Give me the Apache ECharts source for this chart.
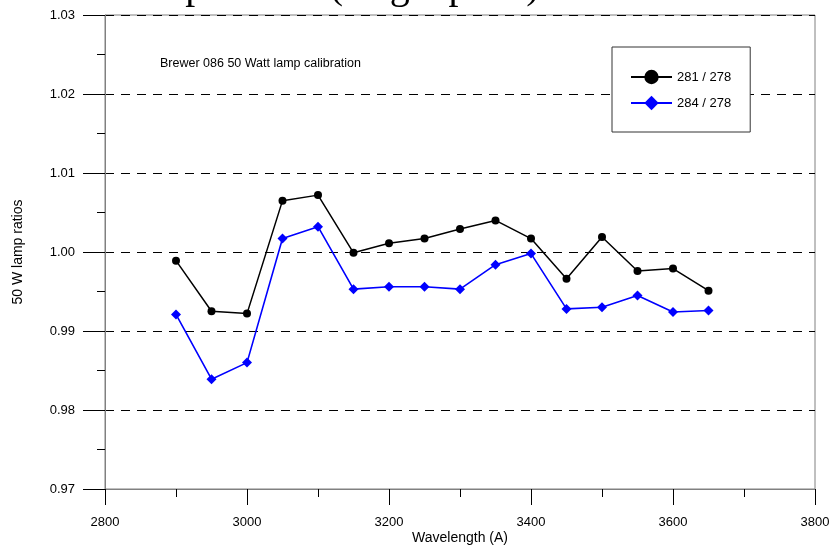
<!DOCTYPE html>
<html>
<head>
<meta charset="utf-8">
<script src="https://cdn.jsdelivr.net/npm/echarts@6/dist/echarts.min.js"></script>
<style>
  html, body { margin: 0; padding: 0; background: #fff; }
  #chart { width: 834px; height: 550px; }
</style>
</head>
<body>
<div id="chart"></div>
<script>
// Wavelengths (Angstrom) of the lamp scan
var wavelengths = [2900, 2950, 3000, 3050, 3100, 3150, 3200, 3250, 3300, 3350, 3400, 3450, 3500, 3550, 3600, 3650];
// Ratio 281 / 278
var ratio281 = [0.9989, 0.9925, 0.9922, 1.0065, 1.0072, 0.9999, 1.0011, 1.0017, 1.0029, 1.0040, 1.0017, 0.9966, 1.0019, 0.9976, 0.9979, 0.9951];
// Ratio 284 / 278
var ratio284 = [0.9921, 0.9839, 0.9860, 1.0017, 1.0032, 0.9953, 0.9956, 0.9956, 0.9953, 0.9984, 0.9998, 0.9928, 0.9930, 0.9945, 0.9924, 0.9926];
var seriesNames = ['281 / 278', '284 / 278'];

function pairs(xs, ys) {
  return xs.map(function (x, i) { return [x, ys[i]]; });
}

var chart = echarts.init(document.getElementById('chart'), null, { renderer: 'canvas' });

var font = '"Liberation Sans", Arial, sans-serif';
var dashed = { color: '#000', type: [9, 7], width: 1 };

chart.setOption({
  animation: false,
  backgroundColor: '#fff',
  textStyle: { fontFamily: font },
  grid: {
    left: 105, right: 19, top: 15, bottom: 61,
    outerBoundsMode: 'none', containLabel: false,
    show: true, borderColor: '#808080', borderWidth: 1, backgroundColor: 'transparent'
  },
  graphic: [
    {
      type: 'text', left: 112, top: -33, silent: true,
      style: { text: 'Lamp results (single plate)', font: '40px "Liberation Serif", "Times New Roman", serif', fill: '#000' }
    },
    {
      type: 'text', left: 160, top: 57, silent: true,
      style: { text: 'Brewer 086 50 Watt lamp calibration', font: '12.5px ' + font, fill: '#000' }
    }
  ],
  legend: {
    orient: 'vertical',
    left: 612, top: 47,
    padding: [20, 19, 19, 18],
    itemWidth: 41, itemHeight: 18, itemGap: 6, itemTextGap: 14,
    borderColor: '#333', borderWidth: 1, backgroundColor: '#fff',
    textStyle: { fontSize: 13, color: '#000', fontFamily: font, lineHeight: 20 },
    data: seriesNames
  },
  xAxis: {
    type: 'value', min: 2800, max: 3800, interval: 200,
    name: 'Wavelength (A)', nameLocation: 'middle', nameGap: 42, nameMoveOverlap: false,
    nameTextStyle: { fontSize: 14, color: '#000', fontFamily: font },
    axisLine: { show: true, lineStyle: { color: '#808080', width: 1 } },
    axisTick: { show: true, inside: false, length: 16, lineStyle: { color: '#000' } },
    minorTick: { show: true, splitNumber: 2, length: 8, lineStyle: { color: '#000' } },
    axisLabel: {
      fontSize: 13, color: '#000', margin: 27, fontFamily: font,
      formatter: function (v) { return String(v); }
    },
    splitLine: { show: false }
  },
  yAxis: {
    type: 'value', min: 0.97, max: 1.03, interval: 0.01,
    name: '50 W lamp ratios', nameLocation: 'middle', nameGap: 80, nameMoveOverlap: false,
    nameTextStyle: { fontSize: 14, color: '#000', fontFamily: font },
    axisLine: { show: true, lineStyle: { color: '#808080', width: 1 } },
    axisTick: { show: true, inside: false, length: 22, lineStyle: { color: '#000' } },
    minorTick: { show: true, splitNumber: 2, length: 8, lineStyle: { color: '#000' } },
    axisLabel: {
      fontSize: 13, color: '#000', margin: 30, fontFamily: font,
      formatter: function (v) { return v.toFixed(2); }
    },
    splitLine: { show: true, lineStyle: dashed }
  },
  series: [
    {
      name: seriesNames[0], type: 'line',
      data: pairs(wavelengths, ratio281),
      symbol: 'circle', symbolSize: 8, showAllSymbol: true,
      itemStyle: { color: '#000' },
      lineStyle: { color: '#000', width: 1.5 },
      z: 3
    },
    {
      name: seriesNames[1], type: 'line',
      data: pairs(wavelengths, ratio284),
      symbol: 'diamond', symbolSize: 10, showAllSymbol: true,
      itemStyle: { color: '#0000ff' },
      lineStyle: { color: '#0000ff', width: 1.6 },
      z: 4
    }
  ]
});
</script>
</body>
</html>
